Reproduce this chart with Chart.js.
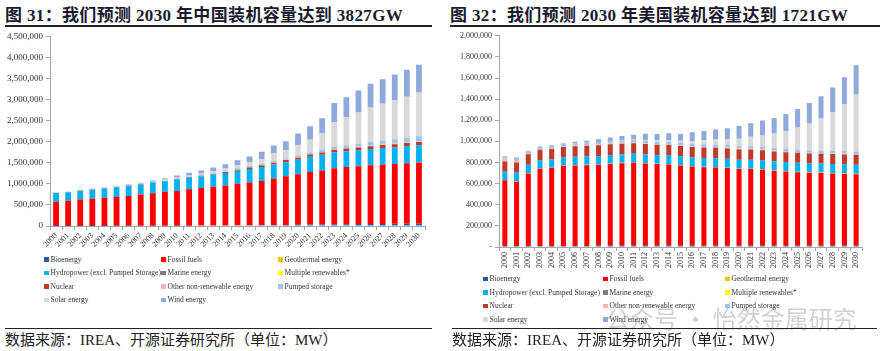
<!DOCTYPE html>
<html>
<head>
<meta charset="utf-8">
<script src="https://cdn.jsdelivr.net/npm/chart.js@4.4.1/dist/chart.umd.min.js"></script>
<style>
  body { margin: 0; width: 884px; height: 351px; background: #fff; position: relative; overflow: hidden;
         font-family: "Liberation Serif", "Noto Sans CJK SC", serif; }
  .title { position: absolute; top: 1px; font-weight: bold; font-size: 17px; letter-spacing: 0.35px; color: #1a1a2e; white-space: nowrap; }
  .rule { position: absolute; background: #222; }
  .src { position: absolute; top: 330px; font-size: 15px; line-height: 20px; color: #222; white-space: nowrap; }
  .item { position: absolute; font-size: 7.5px; line-height: 10px; color: #333; white-space: nowrap; }
  .item i { display: inline-block; width: 4.5px; height: 4.5px; margin-right: 2px; vertical-align: 0; }
  .mark { position: absolute; left: 606px; top: 300px; font-size: 24px; color: rgba(140,140,140,0.4);
          font-family: "Noto Sans CJK SC", sans-serif; white-space: nowrap; }
  canvas { position: absolute; }
</style>
</head>
<body>
<div class="title" style="left:5px">图 31：我们预测 2030 年中国装机容量达到 3827GW</div>
<div class="rule" style="left:5px;top:25px;width:427px;height:2px"></div>
<div class="title" style="left:450px">图 32：我们预测 2030 年美国装机容量达到 1721GW</div>
<div class="rule" style="left:450px;top:25px;width:430px;height:2px"></div>

<canvas id="cn" width="435" height="222" style="left:0;top:28px"></canvas>
<canvas id="us" width="432" height="242" style="left:442px;top:28px"></canvas>
<div id="legends"></div>

<div class="mark">公众号 · 怡然金属研究</div>
<div class="rule" style="left:5px;top:328px;width:427px;height:1px"></div>
<div class="rule" style="left:452px;top:328px;width:425px;height:1px"></div>
<div class="src" style="left:5px">数据来源：IREA、开源证券研究所（单位：MW）</div>
<div class="src" style="left:452px">数据来源：IREA、开源证券研究所（单位：MW）</div>

<script>
const years = [2000, 2001, 2002, 2003, 2004, 2005, 2006, 2007, 2008, 2009, 2010,
  2011, 2012, 2013, 2014, 2015, 2016, 2017, 2018, 2019, 2020,
  2021, 2022, 2023, 2024, 2025, 2026, 2027, 2028, 2029, 2030];

const seriesNames = ['Bioenergy', 'Fossil fuels', 'Geothermal energy',
  'Hydropower (excl. Pumped Storage)', 'Marine energy', 'Multiple renewables*',
  'Nuclear', 'Other non-renewable energy', 'Pumped storage', 'Solar energy', 'Wind energy'];
const seriesColors = ['#1f5aa6', '#ff0000', '#ffc000', '#00b0f0', '#7f7f7f', '#ffff00',
  '#c0392b', '#f4b6b4', '#9dc3e6', '#d9d9d9', '#8ea9db'];

// China, MW
const cnBio = [2000, 2200, 2400, 2600, 2900, 3300, 4000, 4500, 5000, 5800, 6500, 7500, 9000, 11000, 13000, 15000,
  17000, 19000, 22000, 26000, 30000, 33000, 36000, 39000, 42000, 45000, 48000, 50000, 52000, 54000, 56000];
const cnFossil = [571000, 597800, 627600, 642400, 667100, 686700, 706000, 745500, 775000, 804200, 823500,
  862500, 891000, 919000, 947000, 985000, 1018000, 1051000, 1108000, 1154000, 1200000,
  1247000, 1284000, 1331000, 1358000, 1375000, 1392000, 1410000, 1418000, 1436000, 1454000];
const cnGeo = [30, 30, 30, 30, 30, 30, 30, 30, 30, 30, 30, 30, 30, 30, 30, 30, 30, 30, 30, 30, 30,
  40, 50, 60, 70, 80, 90, 100, 110, 120, 130];
const cnHydro = [210000, 200000, 200000, 215000, 220000, 230000, 240000, 230000, 250000, 250000, 275000,
  280000, 280000, 290000, 300000, 310000, 320000, 330000, 330000, 335000, 340000,
  365000, 370000, 380000, 375000, 380000, 385000, 390000, 395000, 400000, 400000];
const cnMarine = [4, 4, 4, 4, 4, 4, 4, 4, 4, 4, 4, 4, 4, 4, 4, 4, 4, 4, 4, 4, 5, 5, 6, 6, 7, 7, 8, 8, 9, 9, 10];
const cnMulti = [0, 0, 0, 0, 0, 0, 0, 0, 0, 0, 0, 0, 0, 0, 0, 0, 0, 0, 0, 0, 0, 0, 0, 0, 0, 0, 0, 0, 0, 0, 0];
const cnNuclear = [2000, 2100, 4500, 6000, 7000, 7000, 7500, 9000, 9000, 9000, 11000, 12500, 12500, 15000, 20000,
  27000, 33000, 36000, 43000, 49000, 50000, 53000, 56000, 58000, 62000, 66000, 70000, 74000, 78000, 82000, 86000];
const cnOther = [12000, 12000, 12000, 12000, 12000, 12000, 12000, 12000, 12000, 12000, 12000, 12000, 12000,
  12000, 12000, 12000, 12000, 12000, 12000, 12000, 12000, 12000, 12000, 12000, 12000, 12000, 12000, 12000,
  12000, 12000, 12000];
const cnPumped = [5500, 5600, 5700, 9000, 11000, 16000, 19000, 21000, 24000, 24000, 24000, 24000, 24000, 24000,
  24000, 24000, 27000, 29000, 30000, 30000, 31000, 36000, 45000, 55000, 65000, 75000, 85000, 95000, 105000,
  112000, 120000];
const cnSolar = [200, 300, 400, 500, 600, 700, 800, 1000, 1500, 2000, 3000, 6000, 15000, 30000, 50000, 70000,
  93000, 113000, 173000, 193000, 253000, 303000, 393000, 593000, 663000, 743000, 823000, 873000, 933000,
  973000, 1043000];
const cnWind = [300, 400, 500, 600, 800, 1300, 2600, 6000, 12000, 26000, 45000, 60000, 75000, 90000, 100000,
  120000, 130000, 170000, 190000, 210000, 280000, 320000, 360000, 450000, 480000, 520000, 560000, 580000,
  600000, 640000, 656000];

// United States, MW
const usBio = [9000, 9000, 9500, 9500, 10000, 10000, 10000, 10500, 11000, 11000, 11500, 12000, 12000, 12500,
  13000, 13000, 13000, 13000, 13000, 13000, 13000, 13000, 13000, 13000, 13000, 13000, 13000, 13000, 13000,
  13000, 13000];
const usFossil = [622000, 609000, 687500, 731500, 740000, 759000, 762000, 764500, 767000, 774000, 782500,
  788000, 779000, 772500, 769000, 759000, 750000, 743000, 740000, 734000, 725000,
  725000, 718000, 709000, 703000, 696000, 690000, 687000, 684000, 681000, 675000];
const usGeo = [2800, 2800, 2800, 2800, 2800, 2800, 2800, 2800, 2900, 3000, 3100, 3200, 3300, 3400, 3500, 3600,
  3700, 3700, 3800, 3900, 4000, 4100, 4200, 4300, 4400, 4500, 4600, 4700, 4800, 4900, 5000];
const usHydro = [79000, 85000, 78000, 76000, 76000, 75000, 79000, 79000, 79000, 81000, 79000, 79000, 82000,
  81000, 83000, 84000, 80000, 82000, 83000, 84000, 85000, 85000, 85000, 85000, 85000, 85000, 85000, 85000,
  85000, 85000, 87000];
const usMarine = [0, 0, 0, 0, 0, 0, 0, 0, 0, 0, 0, 0, 0, 0, 0, 20, 20, 20, 20, 20, 20, 20, 20, 20, 20, 20, 20,
  20, 20, 20, 20];
const usMulti = [0, 0, 0, 0, 0, 0, 0, 0, 0, 0, 0, 0, 0, 0, 0, 0, 0, 0, 0, 0, 0, 0, 0, 0, 0, 0, 0, 0, 0, 0, 0];
const usNuclear = [97000, 94000, 100000, 100000, 100000, 100000, 100000, 102000, 104000, 103000, 102000, 100000,
  98000, 98000, 98000, 97000, 100000, 100000, 100000, 99000, 97000, 95000, 95000, 94000, 93000, 93000, 93000,
  93000, 93000, 93000, 93000];
const usOther = [30000, 25000, 12000, 8000, 8000, 8000, 8000, 8000, 8000, 8000, 8000, 8000, 8000, 8000, 8000,
  8000, 8000, 8000, 8000, 8000, 8000, 8000, 8000, 8000, 8000, 8000, 8000, 8000, 8000, 8000, 8000];
const usPumped = [19000, 19500, 20000, 20500, 20800, 21000, 21400, 21800, 22000, 22000, 22000, 22200, 22200,
  22400, 22400, 22500, 22500, 22600, 22800, 22900, 23000, 23000, 23000, 23000, 23000, 23000, 23000, 23000,
  23000, 23000, 23000];
const usSolar = [400, 500, 600, 700, 800, 900, 1000, 1100, 1300, 1600, 2500, 4500, 7500, 12000, 16000, 18000,
  27000, 39000, 48000, 55000, 71000, 90000, 110000, 138000, 167000, 209000, 252000, 302000, 367000, 446000,
  541000];
const usWind = [2500, 4000, 4500, 6000, 6500, 9000, 11500, 16500, 25000, 34500, 40000, 46000, 60000, 61000,
  65000, 66000, 82000, 86000, 95000, 104000, 120000, 128000, 141000, 147000, 164000, 176000, 194000, 213000,
  233000, 254000, 276000];

const cnSeries = [cnBio, cnFossil, cnGeo, cnHydro, cnMarine, cnMulti, cnNuclear, cnOther, cnPumped, cnSolar, cnWind];
const usSeries = [usBio, usFossil, usGeo, usHydro, usMarine, usMulti, usNuclear, usOther, usPumped, usSolar, usWind];

const tickFont = { family: 'Liberation Serif', size: 8 };

function buildChart(id, series, cfg) {
  return new Chart(document.getElementById(id), {
    type: 'bar',
    data: {
      labels: years.map(String),
      datasets: series.map((d, i) => ({
        label: seriesNames[i],
        data: d,
        backgroundColor: seriesColors[i],
        barPercentage: cfg.bar,
        categoryPercentage: 1
      }))
    },
    options: {
      responsive: false,
      animation: false,
      layout: { padding: { top: cfg.top, right: cfg.right } },
      plugins: { legend: { display: false }, tooltip: { enabled: false } },
      scales: {
        x: {
          stacked: true,
          grid: { drawOnChartArea: false, tickLength: 4, color: '#a6a6a6' },
          border: { color: '#a6a6a6' },
          ticks: { font: tickFont, color: '#333', minRotation: cfg.rot, maxRotation: cfg.rot, autoSkip: false, padding: 1 },
          afterFit: s => { s.height = cfg.xh; }
        },
        y: {
          stacked: true,
          min: 0,
          max: cfg.max,
          grid: { drawOnChartArea: false, tickLength: 4, color: '#a6a6a6' },
          border: { color: '#a6a6a6' },
          ticks: {
            stepSize: cfg.step, font: cfg.yFont, color: '#333', padding: 3,
            callback: v => (v === 0 ? cfg.zero : v.toLocaleString('en-US'))
          },
          afterFit: s => { s.width = cfg.yw; }
        }
      }
    }
  });
}

const cnChart = buildChart('cn', cnSeries, {
  bar: 0.48, top: 6, right: 10, rot: 45, xh: 24, yw: 50, max: 4500000, step: 500000, zero: '0',
  yFont: { family: 'Liberation Serif', size: 9 }
});
const usChart = buildChart('us', usSeries, {
  bar: 0.43, top: 6, right: 12, rot: 90, xh: 23, yw: 57, max: 2000000, step: 200000, zero: '-',
  yFont: { family: 'Liberation Serif', size: 8 }
});

// legends: three columns, four rows, built from the chart datasets
function drawLegend(chart, colX, rowY) {
  const box = document.getElementById('legends');
  chart.data.datasets.forEach((ds, i) => {
    const el = document.createElement('div');
    el.className = 'item';
    el.style.left = colX[i % 3] + 'px';
    el.style.top = (rowY[Math.floor(i / 3)] - 5) + 'px';
    el.innerHTML = '<i style="background:' + ds.backgroundColor + '"></i>' + ds.label;
    box.appendChild(el);
  });
}
drawLegend(cnChart, [44, 161, 278], [259.5, 273, 286.5, 300]);
drawLegend(usChart, [483, 603, 725], [279, 292.5, 306, 319.5]);
</script>
</body>
</html>
